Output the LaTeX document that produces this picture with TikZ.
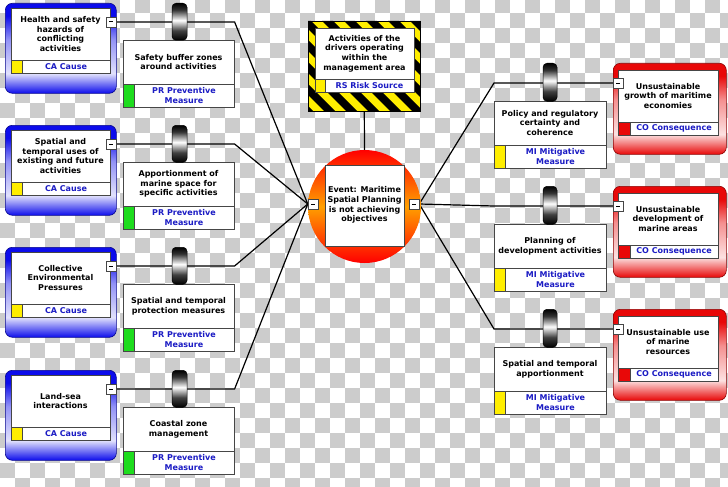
\documentclass[tikz,border=0pt]{standalone}
\usepackage{fontspec}
\setmainfont{DejaVu Sans}
\definecolor{cablue}{RGB}{12,12,235}
\definecolor{cored}{RGB}{232,8,8}
\definecolor{lblue}{RGB}{28,28,196}
\definecolor{chk}{RGB}{204,204,204}
\definecolor{brd}{RGB}{70,70,70}
\definecolor{cayel}{RGB}{255,238,0}
\definecolor{prgreen}{RGB}{30,220,30}
\definecolor{evorange}{RGB}{255,160,0}
\pgfdeclareverticalshading{cashade}{100bp}{color(0bp)=(cablue); color(25bp)=(cablue); color(36bp)=(cablue!12); color(55bp)=(cablue!45); color(68bp)=(cablue); color(100bp)=(cablue)}
\pgfdeclareverticalshading{coshade}{100bp}{color(0bp)=(cored); color(25bp)=(cored); color(36bp)=(cored!12); color(55bp)=(cored!45); color(68bp)=(cored); color(100bp)=(cored)}
\pgfdeclareverticalshading{barshade}{100bp}{color(0bp)=(black); color(25bp)=(black); color(38bp)=(black!75); color(52bp)=(white); color(66bp)=(black!80); color(75bp)=(black); color(100bp)=(black)}
\pgfdeclarelayer{chklayer}
\pgfdeclarelayer{lines}
\pgfsetlayers{chklayer,lines,main}
\tikzset{
  panel/.style={draw=brd, fill=white, line width=0.6pt, inner sep=0},
  mtxt/.style={font=\fontsize{8}{9.7}\selectfont\bfseries, align=center, inner sep=0},
  ltxt/.style={mtxt, text=lblue},
  minusbox/.style={draw=brd, fill=white, minimum size=10pt, inner sep=0, line width=0.5pt},
  conn/.style={line width=1.2pt, black},
  barrier/.style={shade, shading=barshade, rounded corners=4pt, draw=black, line width=0.5pt, inner sep=0},
  causeframe/.style={shade, shading=cashade, rounded corners=7pt, draw=cablue!60!black, line width=0.6pt, inner sep=0, anchor=north west, minimum width=111pt, minimum height=90pt},
  consframe/.style={shade, shading=coshade, rounded corners=7pt, draw=cored!60!black, line width=0.6pt, inner sep=0, anchor=north west, minimum width=113pt, minimum height=91pt},
  swatch/.style={draw=brd, line width=0.6pt, inner sep=0, anchor=north west}
}
\begin{document}
\begin{tikzpicture}[x=1pt,y=-1pt]
\useasboundingbox (0,0) rectangle (728,487);
% checkerboard background
\begin{pgfonlayer}{chklayer}
\fill[white] (0,0) rectangle (728,487);
\foreach \j in {0,...,33}{
  \foreach \i in {0,2,...,48}{
    \fill[chk] ({(\i+1-mod(\j,2))*15},{\j*15-2}) rectangle ++(15,15);
  }
}
\end{pgfonlayer}
% left side: causes, barriers, preventive measures
\foreach \n/\t/\ctext/\ptext in {
 1/3/{Health and safety\\hazards of\\conflicting\\activities}/{Safety buffer zones\\around activities},
 2/125/{Spatial and\\temporal uses of\\existing and future\\activities}/{Apportionment of\\marine space for\\specific activities},
 3/247/{Collective\\Environmental\\Pressures}/{Spatial and temporal\\protection measures},
 4/370/{Land-sea\\interactions}/{Coastal zone\\management}}{
  \node[causeframe] (caf\n) at (5,\t) {};
  \node[panel, anchor=north west, minimum width=99pt, minimum height=65pt] (ca\n) at (11,\t+5) {};
  \draw[brd, line width=0.6pt] (11,\t+57) -- (110,\t+57);
  \node[swatch, fill=cayel, minimum width=11pt, minimum height=13pt] (cay\n) at (11,\t+57) {};
  \node[mtxt] (cat\n) at (60.5,\t+31) {\ctext};
  \node[ltxt] (cal\n) at (66,\t+63.5) {CA Cause};
  \node[minusbox] (cam\n) at (111,\t+19) {\rule{4pt}{1pt}};
  \node[panel, anchor=north west, minimum width=111pt, minimum height=67pt] (pr\n) at (123,\t+37) {};
  \draw[brd, line width=0.6pt] (123,\t+81) -- (234,\t+81);
  \node[swatch, fill=prgreen, minimum width=11pt, minimum height=23pt] (prg\n) at (123,\t+81) {};
  \node[mtxt] (prt\n) at (178.5,\t+59) {\ptext};
  \node[ltxt] (prl\n) at (184,\t+92.5) {PR Preventive\\Measure};
  \node[barrier, anchor=north, minimum width=15pt, minimum height=37pt] (bar\n) at (179.5,\t) {};
}
% right side: consequences, barriers, mitigative measures
\foreach \n/\c/\cotext/\mitext in {
 1/63/{Unsustainable\\growth of maritime\\economies}/{Policy and regulatory\\certainty and\\coherence},
 2/186/{Unsustainable\\development of\\marine areas}/{Planning of\\development activities},
 3/309/{Unsustainable use\\of marine\\resources}/{Spatial and temporal\\apportionment}}{
  \node[consframe] (cof\n) at (613,\c) {};
  \node[panel, anchor=north west, minimum width=100pt, minimum height=65pt] (co\n) at (618,\c+7) {};
  \draw[brd, line width=0.6pt] (618,\c+59) -- (718,\c+59);
  \node[swatch, fill=cored, minimum width=12pt, minimum height=13pt] (cor\n) at (618,\c+59) {};
  \node[mtxt] (cot\n) at (668,\c+33) {\cotext};
  \node[ltxt] (col\n) at (674,\c+65.5) {CO Consequence};
  \node[minusbox] (com\n) at (618,\c+20) {\rule{4pt}{1pt}};
  \node[panel, anchor=north west, minimum width=112pt, minimum height=67pt] (mi\n) at (494,\c+38) {};
  \draw[brd, line width=0.6pt] (494,\c+82) -- (606,\c+82);
  \node[swatch, fill=cayel, minimum width=11pt, minimum height=23pt] (miy\n) at (494,\c+82) {};
  \node[mtxt] (mit\n) at (550,\c+60) {\mitext};
  \node[ltxt] (mil\n) at (555.5,\c+93.5) {MI Mitigative\\Measure};
  \node[barrier, anchor=north, minimum width=14pt, minimum height=38pt] (rbar\n) at (550,\c) {};
}
% risk source with hazard stripes
\begin{scope}
  \clip (308,21) rectangle (420,111);
  \fill[cayel] (308,21) rectangle (420,111);
  \foreach \k in {-6,...,6}{
    \fill[black] ({300+\k*22},21) -- ++(11,0) -- ++(92,92) -- ++(-11,0) -- cycle;
  }
\end{scope}
\node[draw=black, line width=0.6pt, anchor=north west, minimum width=112pt, minimum height=90pt, inner sep=0] (rso) at (308,21) {};
\node[panel, anchor=north west, minimum width=99pt, minimum height=64pt] (rs) at (315,28) {};
\draw[brd, line width=0.6pt] (315,79) -- (414,79);
\node[swatch, fill=cayel, minimum width=10pt, minimum height=13pt] (rsy) at (315,79) {};
\node[mtxt] (rst) at (364.5,53.5) {Activities of the\\drivers operating\\within the\\management area};
\node[ltxt] (rsl) at (369.5,85.5) {RS Risk Source};
% event
\node[circle, shade, top color=red, bottom color=red, middle color=evorange, minimum size=113pt, inner sep=0] (evc) at (364.5,206.5) {};
\node[panel, minimum width=79pt, minimum height=81pt] (ev) at (364.5,205.5) {};
\node[mtxt] (evt) at (364.5,205) {Event: Maritime\\Spatial Planning\\is not achieving\\objectives};
\node[minusbox] (evL) at (313,204) {\rule{4pt}{1pt}};
\node[minusbox] (evR) at (414,204) {\rule{4pt}{1pt}};
% connectors
\begin{pgfonlayer}{lines}
\draw[conn] (rso.south) -- (evc.north);
\foreach \n in {1,...,4}{
  \draw[conn] (cam\n.east) -- (cam\n.east -| pr\n.east) -- (evL.west);
}
\foreach \n in {1,...,3}{
  \draw[conn] (evR.east) -- (com\n.west -| mi\n.west) -- (com\n.west);
}
\end{pgfonlayer}
\end{tikzpicture}
\end{document}
